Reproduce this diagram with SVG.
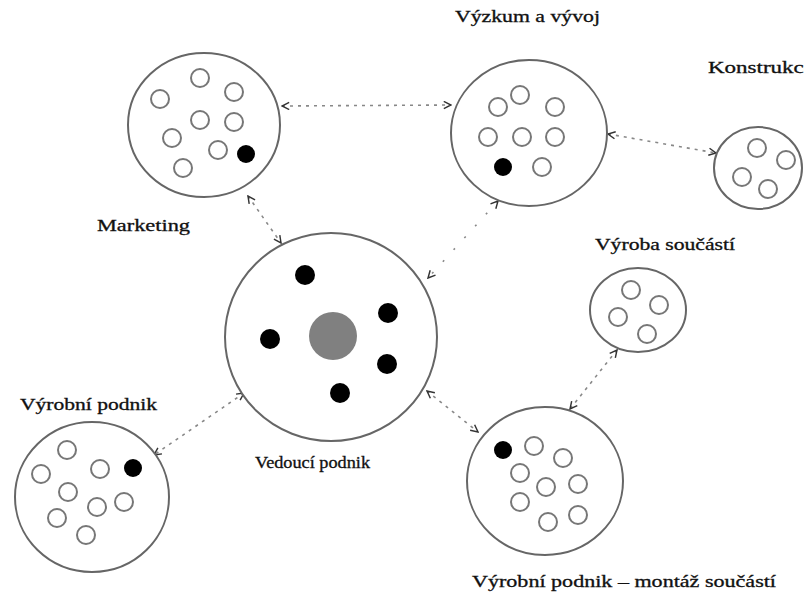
<svg xmlns="http://www.w3.org/2000/svg" width="804" height="595" viewBox="0 0 804 595">
<defs>
<marker id="arr" viewBox="0 0 10 10" refX="9" refY="5" markerWidth="9" markerHeight="9" markerUnits="userSpaceOnUse" orient="auto-start-reverse">
<path d="M1,1 L9,5 L1,9" fill="none" stroke="#333" stroke-width="1.6"/>
</marker>
</defs>
<style>
.big{fill:#fff;stroke:#666;stroke-width:2}
.o{fill:#fff;stroke:#777;stroke-width:2}
.f{fill:#000}
.g{fill:#808080}
.lbl{font-family:"Liberation Serif","Times New Roman",serif;font-size:16px;fill:#111;stroke:#111;stroke-width:0.3}
.con{fill:none;stroke:#888;stroke-width:1.6;stroke-dasharray:3 5;marker-start:url(#arr);marker-end:url(#arr)}
</style>
<rect width="804" height="595" fill="#fff"/>
<g id="connectors">
<line class="con" x1="282" y1="106" x2="451" y2="105"/>
<line class="con" x1="608" y1="134" x2="716" y2="153"/>
<line class="con" x1="248" y1="196" x2="281" y2="243"/>
<line class="con" x1="498" y1="201" x2="428" y2="278" style="stroke-dasharray:2 14"/>
<line class="con" x1="244" y1="393" x2="154" y2="455"/>
<line class="con" x1="427" y1="391" x2="478" y2="432"/>
<line class="con" x1="617" y1="350" x2="570" y2="409"/>
</g>
<g id="marketing">
<ellipse class="big" cx="204" cy="125" rx="76" ry="72"/>
<circle class="o" cx="200" cy="78" r="9"/>
<circle class="o" cx="160" cy="99" r="9"/>
<circle class="o" cx="234" cy="92" r="9"/>
<circle class="o" cx="200" cy="120" r="9"/>
<circle class="o" cx="234" cy="122" r="9"/>
<circle class="o" cx="172" cy="138" r="9"/>
<circle class="o" cx="218" cy="150" r="9"/>
<circle class="f" cx="246" cy="154" r="9"/>
<circle class="o" cx="183" cy="168" r="9"/>
<text class="lbl" x="97" y="231" textLength="93" lengthAdjust="spacingAndGlyphs">Marketing</text>
</g>
<g id="vyzkum">
<ellipse class="big" cx="529" cy="133" rx="78" ry="73"/>
<circle class="o" cx="520" cy="95" r="9"/>
<circle class="o" cx="498" cy="107" r="9"/>
<circle class="o" cx="555" cy="107" r="9"/>
<circle class="o" cx="488" cy="137" r="9"/>
<circle class="o" cx="522" cy="137" r="9"/>
<circle class="o" cx="555" cy="137" r="9"/>
<circle class="f" cx="503" cy="167" r="9"/>
<circle class="o" cx="542" cy="167" r="9"/>
<text class="lbl" x="455" y="22" textLength="145" lengthAdjust="spacingAndGlyphs">Výzkum a vývoj</text>
</g>
<g id="konstrukce">
<ellipse class="big" cx="758" cy="168" rx="44" ry="41"/>
<circle class="o" cx="757" cy="148" r="9"/>
<circle class="o" cx="786" cy="160" r="9"/>
<circle class="o" cx="742" cy="177" r="9"/>
<circle class="o" cx="768" cy="189" r="9"/>
<text class="lbl" x="708" y="73" textLength="106" lengthAdjust="spacingAndGlyphs">Konstrukce</text>
</g>
<g id="vedouci">
<ellipse class="big" cx="331" cy="337" rx="106" ry="104"/>
<circle class="g" cx="333" cy="336" r="24"/>
<circle class="f" cx="305" cy="275" r="10"/>
<circle class="f" cx="388" cy="313" r="10"/>
<circle class="f" cx="270" cy="339" r="10"/>
<circle class="f" cx="387" cy="364" r="10"/>
<circle class="f" cx="340" cy="393" r="10"/>
<text class="lbl" x="255" y="468" textLength="115" lengthAdjust="spacingAndGlyphs">Vedoucí podnik</text>
</g>
<g id="vyroba">
<ellipse class="big" cx="638" cy="310" rx="48" ry="42"/>
<circle class="o" cx="631" cy="290" r="9"/>
<circle class="o" cx="659" cy="305" r="9"/>
<circle class="o" cx="618" cy="317" r="9"/>
<circle class="o" cx="647" cy="334" r="9"/>
<text class="lbl" x="595" y="250" textLength="140" lengthAdjust="spacingAndGlyphs">Výroba součástí</text>
</g>
<g id="vyrobni">
<ellipse class="big" cx="92" cy="497" rx="77" ry="75"/>
<circle class="o" cx="67" cy="450" r="9"/>
<circle class="o" cx="41" cy="474" r="9"/>
<circle class="o" cx="100" cy="469" r="9"/>
<circle class="f" cx="133" cy="468" r="9"/>
<circle class="o" cx="68" cy="492" r="9"/>
<circle class="o" cx="124" cy="502" r="9"/>
<circle class="o" cx="97" cy="507" r="9"/>
<circle class="o" cx="57" cy="518" r="9"/>
<circle class="o" cx="86" cy="535" r="9"/>
<text class="lbl" x="20" y="410" textLength="137" lengthAdjust="spacingAndGlyphs">Výrobní podnik</text>
</g>
<g id="montaz">
<ellipse class="big" cx="545" cy="481" rx="78" ry="74"/>
<circle class="f" cx="503" cy="450" r="9"/>
<circle class="o" cx="534" cy="446" r="9"/>
<circle class="o" cx="563" cy="458" r="9"/>
<circle class="o" cx="520" cy="473" r="9"/>
<circle class="o" cx="546" cy="487" r="9"/>
<circle class="o" cx="578" cy="484" r="9"/>
<circle class="o" cx="520" cy="502" r="9"/>
<circle class="o" cx="548" cy="522" r="9"/>
<circle class="o" cx="578" cy="515" r="9"/>
<text class="lbl" x="472" y="587" textLength="304" lengthAdjust="spacingAndGlyphs">Výrobní podnik – montáž součástí</text>
</g>
</svg>
